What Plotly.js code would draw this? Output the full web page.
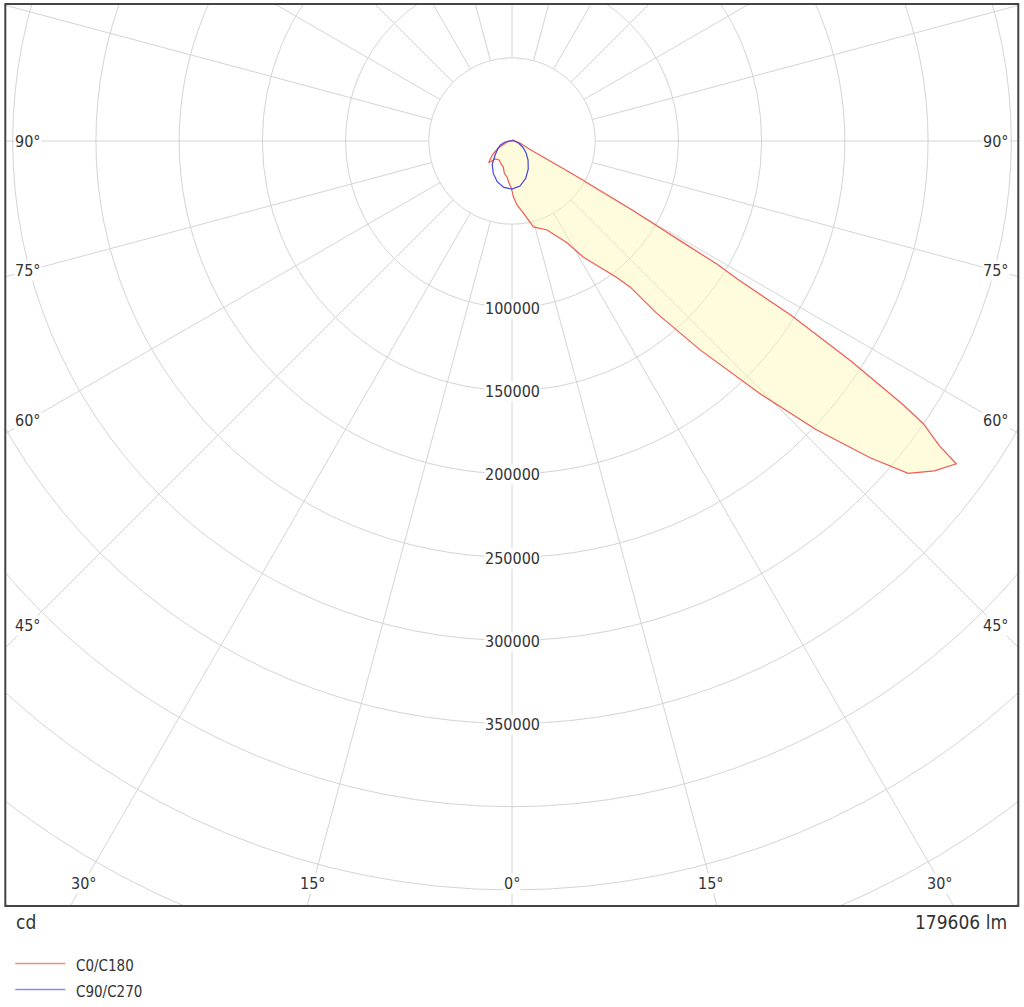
<!DOCTYPE html>
<html>
<head>
<meta charset="utf-8">
<script src="https://cdn.plot.ly/plotly-3.0.1.min.js"></script>
<style>
  html, body { margin: 0; padding: 0; background: #ffffff; }
  #page { position: relative; width: 1024px; height: 1007px; overflow: hidden; background: #fff; }
  #chart { position: absolute; }
</style>
</head>
<body>
<div id="page"><div id="chart"></div></div>
<script>
// ---------------- data ----------------
// C0 plane (right side): gamma in degrees, luminous intensity in cd
const c0Gamma = [0, 1.5, 4.5, 9, 14, 21.5, 28.5, 31.5, 35, 37.5, 39, 40, 42, 44.5, 46.5, 48.5, 50, 52, 54,
                 54.5, 55.5, 56, 57, 58, 58.5, 59, 59.3, 59.6, 60.1, 60.6, 61.1, 61.6, 62.5, 65, 70, 76, 90, 120, 150, 180];
const c0Cd    = [30000, 33700, 38500, 43900, 53200, 57500, 69700, 81700, 93000, 103400, 113000, 134600, 168900, 213300, 251800, 287300, 310700, 322000, 330000,
                 315500, 299900, 283700, 242800, 197700, 159300, 143600, 119600, 101600, 83900, 60700, 49700, 36100, 24000, 12000, 7000, 5100, 1800, 1000, 600, 0];
// C180 plane (left side)
const c180Gamma = [0, 1, 5, 7, 13.5, 18.5, 24, 34, 43, 47, 55, 63, 78, 90, 120, 180];
const c180Cd    = [30000, 28200, 24600, 22400, 19800, 16500, 15600, 13800, 14700, 19200, 14400, 9300, 2900, 1000, 500, 0];
// C90 plane (right side) and C270 plane (left side)
const c90Gamma  = [0, 10, 20, 30, 40, 50, 60, 70, 80, 90, 100, 180];
const c90Cd     = [28900, 27500, 24000, 19500, 15000, 11000, 7500, 4500, 2500, 1200, 500, 0];
const c270Gamma = [0, 10, 20, 30, 40, 50, 60, 70, 80, 90, 100, 180];
const c270Cd    = [28900, 28300, 26000, 22500, 18500, 13300, 10000, 7500, 4500, 2000, 800, 0];

// grid / labels
const radialTicks  = [50000, 100000, 150000, 200000, 250000, 300000, 350000, 400000, 450000, 500000, 550000];
const radialLabels = [100000, 150000, 200000, 250000, 300000, 350000];
const spokeAngles  = [0, 15, 30, 45, 60, 75, 90, 105, 120, 135, 150, 165, 180, 195, 210, 225, 240, 255, 270, 285, 300, 315, 330, 345];
const sideLabelAngles   = [90, 75, 60, 45];
const bottomLabelAngles = [-30, -15, 0, 15, 30];
const fluxText = '179606 lm';
const unitText = 'cd';
const legendNames = ['C0/C180', 'C90/C270'];

// ---------------- geometry of the page ----------------
const CX = 511.7, CY = 141;      // centre of diagram on the page
const R = 932;                   // radius of polar area in px
const RMAX = 560000;             // radial range
const W = 2 * R, H = 2 * R;
const divLeft = CX - R, divTop = CY - R;
const chart = document.getElementById('chart');
chart.style.left = divLeft + 'px';
chart.style.top = divTop + 'px';
chart.style.width = W + 'px';
chart.style.height = H + 'px';
const px = x => (x - divLeft) / W;
const py = y => 1 - (y - divTop) / H;
const k = R / RMAX; // px per cd

const FRAME = {x0: 5, x1: 1018, y0: 4, y1: 906};
const FONT = 'DejaVu Sans Condensed, DejaVu Sans, sans-serif';
const TXT = '#333333';
const GRID = '#d4d4d4';
const RED = 'rgb(238,92,84)';
const BLUE = 'rgb(66,66,222)';

// ---------------- traces ----------------
const spokeR = [], spokeT = [];
spokeAngles.forEach(a => { spokeR.push(50000, RMAX, null); spokeT.push(a, a, null); });

function closed(rightG, rightV, leftG, leftV) {
  const t = [], r = [];
  for (let i = leftG.length - 1; i >= 0; i--) { t.push(-leftG[i]); r.push(leftV[i]); }
  for (let i = 0; i < rightG.length; i++) { t.push(rightG[i]); r.push(rightV[i]); }
  return {t, r};
}
const red = closed(c0Gamma, c0Cd, c180Gamma, c180Cd);
const blue = closed(c90Gamma, c90Cd, c270Gamma, c270Cd);

const traces = [
  {type: 'scatterpolar', mode: 'lines', r: spokeR, theta: spokeT, line: {color: GRID, width: 1},
   hoverinfo: 'skip', showlegend: false, connectgaps: false},
  {type: 'scatterpolar', mode: 'lines', r: red.r, theta: red.t, name: legendNames[0],
   fill: 'toself', fillcolor: 'rgba(255,249,180,0.45)', line: {color: RED, width: 1.2}, showlegend: false},
  {type: 'scatterpolar', mode: 'lines', r: blue.r, theta: blue.t, name: legendNames[1],
   line: {color: BLUE, width: 1.2}, showlegend: false}
];

// ---------------- annotations ----------------
const ann = [];
radialLabels.forEach(v => {
  ann.push({xref: 'paper', yref: 'paper', x: px(CX), y: py(CY + v * k + 1), text: String(v),
    showarrow: false, xanchor: 'center', yanchor: 'middle', bgcolor: '#ffffff', borderpad: 0,
    font: {family: FONT, size: 16, color: TXT}});
});
sideLabelAngles.forEach(a => {
  const dy = 484 * Math.cos(a * Math.PI / 180) / Math.sin(a * Math.PI / 180);
  ann.push({xref: 'paper', yref: 'paper', x: px(14), y: py(CY + dy), text: a + '°', showarrow: false,
    xanchor: 'left', yanchor: 'middle', bgcolor: '#ffffff', borderpad: 0, font: {family: FONT, size: 16, color: TXT}});
  ann.push({xref: 'paper', yref: 'paper', x: px(1010), y: py(CY + dy), text: a + '°', showarrow: false,
    xanchor: 'right', yanchor: 'middle', bgcolor: '#ffffff', borderpad: 0, font: {family: FONT, size: 16, color: TXT}});
});
bottomLabelAngles.forEach(a => {
  const dx = 742 * Math.tan(a * Math.PI / 180);
  ann.push({xref: 'paper', yref: 'paper', x: px(CX + dx), y: py(CY + 742), text: Math.abs(a) + '°', showarrow: false,
    xanchor: 'center', yanchor: 'middle', bgcolor: '#ffffff', borderpad: 0, font: {family: FONT, size: 16, color: TXT}});
});
ann.push({xref: 'paper', yref: 'paper', x: px(14), y: py(922), text: unitText, showarrow: false,
  xanchor: 'left', yanchor: 'middle', font: {family: FONT, size: 19, color: TXT}});
ann.push({xref: 'paper', yref: 'paper', x: px(1009), y: py(922), text: fluxText, showarrow: false,
  xanchor: 'right', yanchor: 'middle', font: {family: FONT, size: 19, color: TXT}});
ann.push({xref: 'paper', yref: 'paper', x: px(74), y: py(966), text: legendNames[0], showarrow: false,
  xanchor: 'left', yanchor: 'middle', font: {family: FONT, size: 15, color: TXT}});
ann.push({xref: 'paper', yref: 'paper', x: px(74), y: py(992), text: legendNames[1], showarrow: false,
  xanchor: 'left', yanchor: 'middle', font: {family: FONT, size: 15, color: TXT}});

// ---------------- shapes: masks outside the frame, frame, legend lines ----------------
const mask = {type: 'rect', xref: 'paper', yref: 'paper', fillcolor: '#ffffff', line: {width: 0}, layer: 'above'};
const shapes = [
  Object.assign({}, mask, {x0: 0, x1: 1, y0: py(FRAME.y1), y1: 0}),
  Object.assign({}, mask, {x0: 0, x1: 1, y0: 1, y1: py(FRAME.y0)}),
  Object.assign({}, mask, {x0: 0, x1: px(FRAME.x0), y0: 0, y1: 1}),
  Object.assign({}, mask, {x0: px(FRAME.x1), x1: 1, y0: 0, y1: 1}),
  {type: 'rect', xref: 'paper', yref: 'paper', x0: px(FRAME.x0), x1: px(FRAME.x1), y0: py(FRAME.y0), y1: py(FRAME.y1),
   line: {color: '#444444', width: 2}, fillcolor: 'rgba(0,0,0,0)', layer: 'above'},
  {type: 'line', xref: 'paper', yref: 'paper', x0: px(15), x1: px(65), y0: py(963.5), y1: py(963.5),
   line: {color: 'rgb(240,140,130)', width: 1.5}, layer: 'above'},
  {type: 'line', xref: 'paper', yref: 'paper', x0: px(15), x1: px(65), y0: py(989.5), y1: py(989.5),
   line: {color: 'rgb(140,140,232)', width: 1.5}, layer: 'above'}
];

const layout = {
  width: W, height: H,
  margin: {l: 0, r: 0, t: 0, b: 0, pad: 0},
  paper_bgcolor: '#ffffff',
  showlegend: false,
  polar: {
    domain: {x: [0, 1], y: [0, 1]},
    bgcolor: '#ffffff',
    radialaxis: {range: [0, RMAX], autorange: false, tickvals: radialTicks, showticklabels: false, ticks: '',
      showline: false, gridcolor: GRID, gridwidth: 1},
    angularaxis: {rotation: -90, direction: 'counterclockwise', showgrid: false, showticklabels: false,
      ticks: '', showline: false}
  },
  annotations: ann,
  shapes: shapes
};

Plotly.newPlot(chart, traces, layout, {staticPlot: true, displayModeBar: false});
</script>
</body>
</html>
